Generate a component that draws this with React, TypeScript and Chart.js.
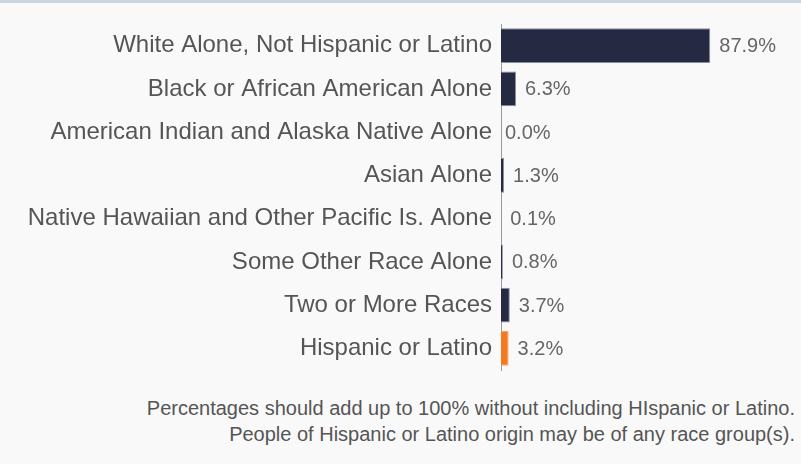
import React, { useEffect, useRef } from "react";
import { Chart, registerables } from "chart.js";

Chart.register(...registerables);

const categories = [
  "White Alone, Not Hispanic or Latino",
  "Black or African American Alone",
  "American Indian and Alaska Native Alone",
  "Asian Alone",
  "Native Hawaiian and Other Pacific Is. Alone",
  "Some Other Race Alone",
  "Two or More Races",
  "Hispanic or Latino",
];
const values = [87.9, 6.3, 0.0, 1.3, 0.1, 0.8, 3.7, 3.2];
const barColors = ["#252a42", "#252a42", "#252a42", "#252a42", "#252a42", "#252a42", "#252a42", "#f47a20"];
const borderColors = ["#8c8fa0", "#8c8fa0", "#8c8fa0", "#8c8fa0", "#8c8fa0", "#8c8fa0", "#8c8fa0", "#f9a468"];
const footnotes = [
  "Percentages should add up to 100% without including HIspanic or Latino.",
  "People of Hispanic or Latino origin may be of any race group(s).",
];

const FONT = "'Liberation Sans', Arial, Helvetica, sans-serif";

const valueLabelPlugin = {
  id: "valueLabels",
  afterDatasetsDraw(chart: any) {
    const ctx = chart.ctx;
    const meta = chart.getDatasetMeta(0);
    ctx.save();
    ctx.font = `20px ${FONT}`;
    ctx.fillStyle = "#666666";
    ctx.textAlign = "left";
    ctx.textBaseline = "middle";
    meta.data.forEach((el: any, i: number) => {
      const v = values[i];
      const off = v === 0 ? 4 : 9;
      ctx.fillText(v.toFixed(1) + "%", el.x + off, el.y + 1);
    });
    ctx.restore();
  },
};

export default function App() {
  const canvasRef = useRef<HTMLCanvasElement | null>(null);

  useEffect(() => {
    document.body.style.margin = "0";
    const canvas = canvasRef.current;
    if (!canvas) return;
    const chart = new Chart(canvas, {
      type: "bar",
      data: {
        labels: categories,
        datasets: [
          {
            data: values,
            backgroundColor: barColors,
            borderColor: borderColors,
            borderWidth: 1,
            barPercentage: 0.8,
            categoryPercentage: 1,
          },
        ],
      },
      options: {
        indexAxis: "y",
        animation: false,
        responsive: false,
        maintainAspectRatio: false,
        events: [],
        layout: { padding: { top: 24, bottom: 10, left: 0, right: 0 } },
        plugins: {
          legend: { display: false },
          tooltip: { enabled: false },
          title: { display: false },
        },
        scales: {
          x: {
            display: false,
            min: 0,
            max: 126,
          },
          y: {
            afterFit: (scale: any) => {
              scale.width = 501;
              scale.paddingTop = 0;
              scale.paddingBottom = 0;
            },
            grid: { display: false, drawTicks: false },
            border: { display: true, color: "#9a9a9a", width: 1 },
            ticks: {
              padding: 9,
              color: "#555555",
              font: { family: FONT, size: 24 },
            },
          },
        },
      },
      plugins: [valueLabelPlugin],
    });
    return () => chart.destroy();
  }, []);

  return (
    <div
      style={{
        position: "fixed",
        left: 0,
        top: 0,
        width: 801,
        height: 464,
        background: "#f9f9f9",
        overflow: "hidden",
      }}
    >
      <div style={{ position: "absolute", left: 0, top: 0, width: 801, height: 3, background: "#c9d5df" }} />
      <canvas ref={canvasRef} width={801} height={380} style={{ position: "absolute", left: 0, top: 0, width: 801, height: 380 }} />
      <div
        style={{
          position: "absolute",
          right: 6,
          top: 395,
          textAlign: "right",
          fontFamily: FONT,
          fontSize: 20,
          lineHeight: "26px",
          color: "#555555",
          whiteSpace: "nowrap",
        }}
      >
        {footnotes.map((t, i) => (
          <div key={i}>{t}</div>
        ))}
      </div>
    </div>
  );
}
